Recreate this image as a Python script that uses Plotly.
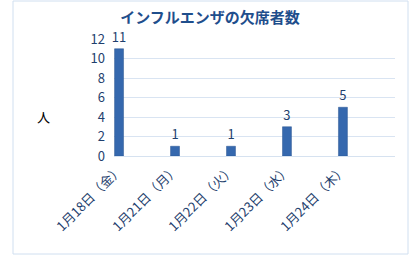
import plotly.graph_objects as go

categories = ["1月18日（金）", "1月21日（月）", "1月22日（火）", "1月23日（水）", "1月24日（木）"]
absent = [11, 1, 1, 3, 5]
y_ticks = [0, 2, 4, 6, 8, 10, 12]

FONT = "Noto Sans CJK JP"
TXT = "#1f3f6e"

fig = go.Figure()
fig.add_trace(go.Bar(
    x=list(range(len(categories))), y=absent,
    width=0.16,
    marker=dict(color="#3568ae", line=dict(color="#2a5590", width=0.5)),
    text=[str(v) for v in absent], textposition="outside",
    constraintext="none",
    textfont=dict(family=FONT, size=13, color=TXT),
    cliponaxis=False,
))

fig.update_layout(
    width=420, height=256,
    margin=dict(l=114, r=25, t=39, b=100),
    paper_bgcolor="white", plot_bgcolor="white",
    showlegend=False,
    title=dict(text="<b>インフルエンザの欠席者数</b>", x=0.5, xanchor="center",
               y=1 - 18 / 256, yanchor="middle",
               font=dict(family=FONT, size=15, color="#1f4e8c")),
    xaxis=dict(range=[-0.09, 4.93], tickmode="array",
               tickvals=list(range(len(categories))), ticktext=categories,
               tickangle=-45, showgrid=False, zeroline=False,
               showline=True, linecolor="#d6e2f0", ticks="",
               tickfont=dict(family=FONT, size=13, color=TXT)),
    yaxis=dict(range=[0, 12], tickmode="array", tickvals=y_ticks,
               showgrid=True, gridcolor="#d9e4f2", zeroline=False,
               showline=False, ticks="", ticklabelstandoff=8,
               tickfont=dict(family=FONT, size=13, color=TXT)),
    annotations=[dict(text="人", xref="paper", yref="paper",
                      x=(35 - 114) / 281, y=(156 - 128) / 117,
                      showarrow=False, font=dict(family=FONT, size=13, color="black"))],
    shapes=[dict(type="rect", xref="paper", yref="paper",
                 x0=(13 - 114) / 281, x1=(408 - 114) / 281,
                 y0=(156 - 254) / 117, y1=(156 - 1) / 117,
                 line=dict(color="#d0dff0", width=1), fillcolor="rgba(0,0,0,0)")],
)

fig.write_html("out.html")
